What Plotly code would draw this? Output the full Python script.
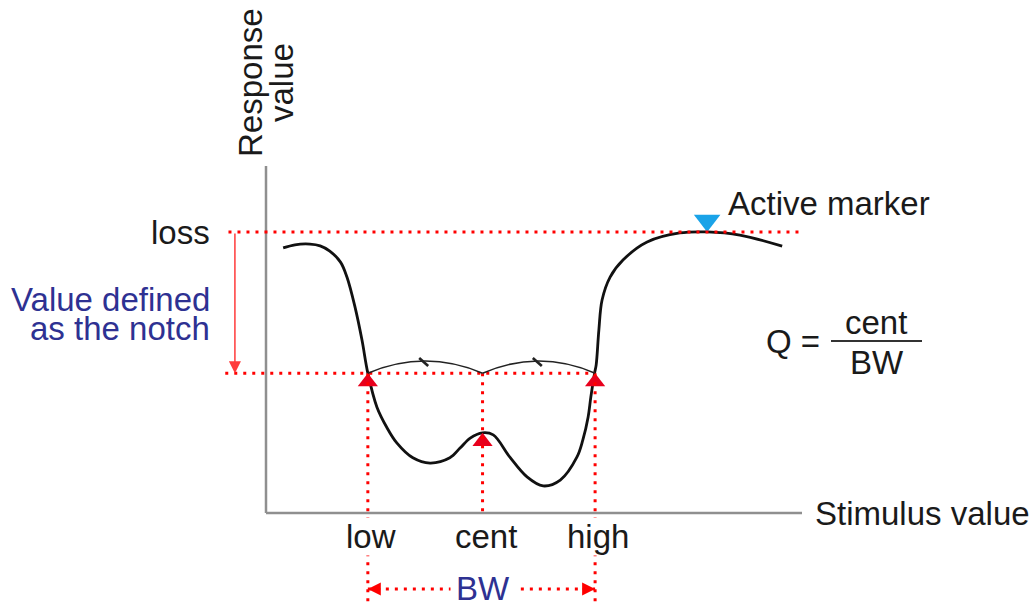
import plotly.graph_objects as go

# ---------------- data ----------------
# response curve (stimulus value, response value)
curve_x = [3.2, 5.4, 8.2, 10.1, 11.9, 13.9, 15.1, 16.6, 17.9, 19.0, 20.7, 22.6, 24.4,
           27.4, 30.6, 34.3, 36.2, 38.1, 40.4, 42.4, 45.5, 48.7, 51.7, 54.9, 58.0,
           59.1, 60.1, 60.6, 61.3, 61.6, 62.1, 62.7, 64.2, 66.6, 71.1, 77.2, 82.3,
           88.4, 96.3]
curve_y = [76.4, 77.3, 77.5, 77.0, 75.5, 72.3, 68.0, 59.4, 49.9, 40.3, 30.5, 24.5, 20.2,
           15.9, 14.4, 15.9, 18.7, 21.6, 23.1, 22.5, 16.1, 10.4, 7.8, 9.5, 16.1,
           21.0, 27.7, 33.4, 40.3, 42.7, 52.7, 61.4, 68.0, 72.9, 78.1, 80.7, 81.0,
           80.1, 76.9]

band_labels = ["low", "cent", "high"]
band_x = [19.0, 40.4, 61.4]          # low, cent, high stimulus values
loss_level = 81.0                    # response at "loss"
notch_level = 40.3                   # response defined as the notch
cent_response = 23.1                 # curve value at cent
arc_peak = 43.8                      # top of the low-cent / cent-high arcs
active_x = 82.3                      # active marker position
axis_max_x = 100
axis_max_y = 100
bw_y = -21.9                         # level of the BW arrow
guide_bottom = -25.6                 # lower end of low / high guides
notch_arrow_x = -5.8                 # x of the red "notch" arrow
loss_line = [-7.0, 100.2]            # extent of loss guide
notch_line_start = -7.6              # start of notch guide

# ---------------- layout helpers ----------------
W, H = 1032, 607
OX, OY = 266, 513        # pixel position of the origin
SX, SY = 5.36, 3.47      # pixels per data unit
XR = [-OX / SX, (W - OX) / SX]
YR = [(OY - H) / SY, OY / SY]

def px(x):
    return x / W

def py(y):
    return 1 - y / H

FONT = "Liberation Sans, Arial, Helvetica, sans-serif"
BLACK = "#1a1a1a"
BLUE = "#2e3192"
RED = "#ff0000"
GRAY = "#8f8f8f"
DOT = "3px,6px"
FS = 33

low, cent, high = band_x

fig = go.Figure()

# curve
fig.add_trace(go.Scatter(
    x=curve_x, y=curve_y, mode="lines",
    line=dict(color="#111111", width=2.8, shape="spline", smoothing=1.0),
    hoverinfo="skip", showlegend=False))

# red markers (apex on the point)
tri = 17.5
off = (tri / 2) / SY
fig.add_trace(go.Scatter(
    x=band_x, y=[notch_level - off, cent_response - off, notch_level - off],
    mode="markers", marker=dict(symbol="triangle-up", size=tri, color="#e8001c",
                                line=dict(width=0)),
    hoverinfo="skip", showlegend=False))

# active marker
btri = 23
fig.add_trace(go.Scatter(
    x=[active_x], y=[loss_level + (btri / 2) / SY], mode="markers",
    marker=dict(symbol="triangle-down", size=btri, color="#1aa3e8", line=dict(width=0)),
    hoverinfo="skip", showlegend=False))

shapes = []
# axes
shapes.append(dict(type="line", x0=0, y0=0, x1=0, y1=axis_max_y,
                   line=dict(color=GRAY, width=2.5), layer="below"))
shapes.append(dict(type="line", x0=0, y0=0, x1=axis_max_x, y1=0,
                   line=dict(color=GRAY, width=2.5), layer="below"))
# dotted guides
dotted = dict(color=RED, width=3, dash=DOT)
shapes.append(dict(type="line", x0=loss_line[0], x1=loss_line[1], y0=loss_level, y1=loss_level, line=dotted))
shapes.append(dict(type="line", x0=notch_line_start, x1=high, y0=notch_level, y1=notch_level, line=dotted))
shapes.append(dict(type="line", x0=low, x1=low, y0=notch_level, y1=guide_bottom, line=dotted))
shapes.append(dict(type="line", x0=cent, x1=cent, y0=notch_level, y1=0, line=dotted))
shapes.append(dict(type="line", x0=high, x1=high, y0=notch_level, y1=guide_bottom, line=dotted))
shapes.append(dict(type="line", x0=low, x1=high, y0=bw_y, y1=bw_y, line=dotted))

# arcs low->cent and cent->high with small barbs
ctrl = notch_level + 2 * (arc_peak - notch_level)
for a, b in [(low, cent), (cent, high)]:
    m = (a + b) / 2
    shapes.append(dict(type="path",
                       path=f"M {a},{notch_level} Q {m},{ctrl} {b},{notch_level}",
                       line=dict(color="#222222", width=1.6)))
    shapes.append(dict(type="line",
                       x0=m - 6 / SX, y0=arc_peak + 3 / SY,
                       x1=m + 3 / SX, y1=arc_peak - 5 / SY,
                       line=dict(color="#222222", width=2.6)))

# fraction bar
shapes.append(dict(type="line", xref="paper", yref="paper",
                   x0=px(831), x1=px(922), y0=py(341), y1=py(341),
                   line=dict(color="#333333", width=2)))

ann = []
def text(t, x, y, color=BLACK, xanchor="center", angle=0, **kw):
    d = dict(text=t, x=x, y=y, xref="paper", yref="paper", showarrow=False,
             xanchor=xanchor, yanchor="middle", textangle=angle,
             font=dict(family=FONT, size=FS, color=color))
    d.update(kw)
    ann.append(d)

text("Response", px(250), py(83), angle=-90)
text("value", px(281), py(83), angle=-90)
text("loss", px(212), py(232), xanchor="right")
text("Value defined", px(212), py(299), color=BLUE, xanchor="right")
text("as the notch", px(212), py(328), color=BLUE, xanchor="right")
text("Stimulus value", px(813), py(513), xanchor="left")
text("Active marker", px(726), py(203), xanchor="left")
text("Q =", px(764), py(341), xanchor="left")
text("cent", px(876), py(322))
text("BW", px(877), py(362))

# band labels under axis
for lab, xv in zip(band_labels, band_x):
    ann.append(dict(text=lab, x=xv, y=0, xref="x", yref="y", showarrow=False,
                    xanchor="center", yanchor="top", xshift=3, yshift=-4,
                    bgcolor="white", borderpad=0,
                    font=dict(family=FONT, size=FS, color=BLACK)))

# BW label
ann.append(dict(text="BW", x=cent, y=bw_y, xref="x", yref="y", showarrow=False,
                xanchor="center", yanchor="middle", bgcolor="white", borderpad=5,
                font=dict(family=FONT, size=FS, color=BLUE)))

# BW arrowheads
for xv, sgn in [(low, 1), (high, -1)]:
    ann.append(dict(text="", x=xv, y=bw_y, xref="x", yref="y", showarrow=True,
                    ax=sgn * 14, ay=0, arrowhead=2, arrowsize=1.3, arrowwidth=2,
                    arrowcolor=RED, standoff=0))

# notch arrow
ann.append(dict(text="", x=notch_arrow_x, y=notch_level, xref="x", yref="y",
                ax=notch_arrow_x, ay=loss_level, axref="x", ayref="y",
                showarrow=True, arrowhead=2, arrowsize=1.6, arrowwidth=1.5,
                arrowcolor="#ff3b3b", standoff=0))

fig.update_layout(
    width=W, height=H, margin=dict(l=0, r=0, t=0, b=0),
    paper_bgcolor="white", plot_bgcolor="white",
    xaxis=dict(range=XR, visible=False, fixedrange=True),
    yaxis=dict(range=YR, visible=False, fixedrange=True),
    shapes=shapes, annotations=ann, showlegend=False)

fig.write_html("out.html", config={"displayModeBar": False},
               post_script="document.body.style.margin='0';document.body.style.overflow='hidden';")
